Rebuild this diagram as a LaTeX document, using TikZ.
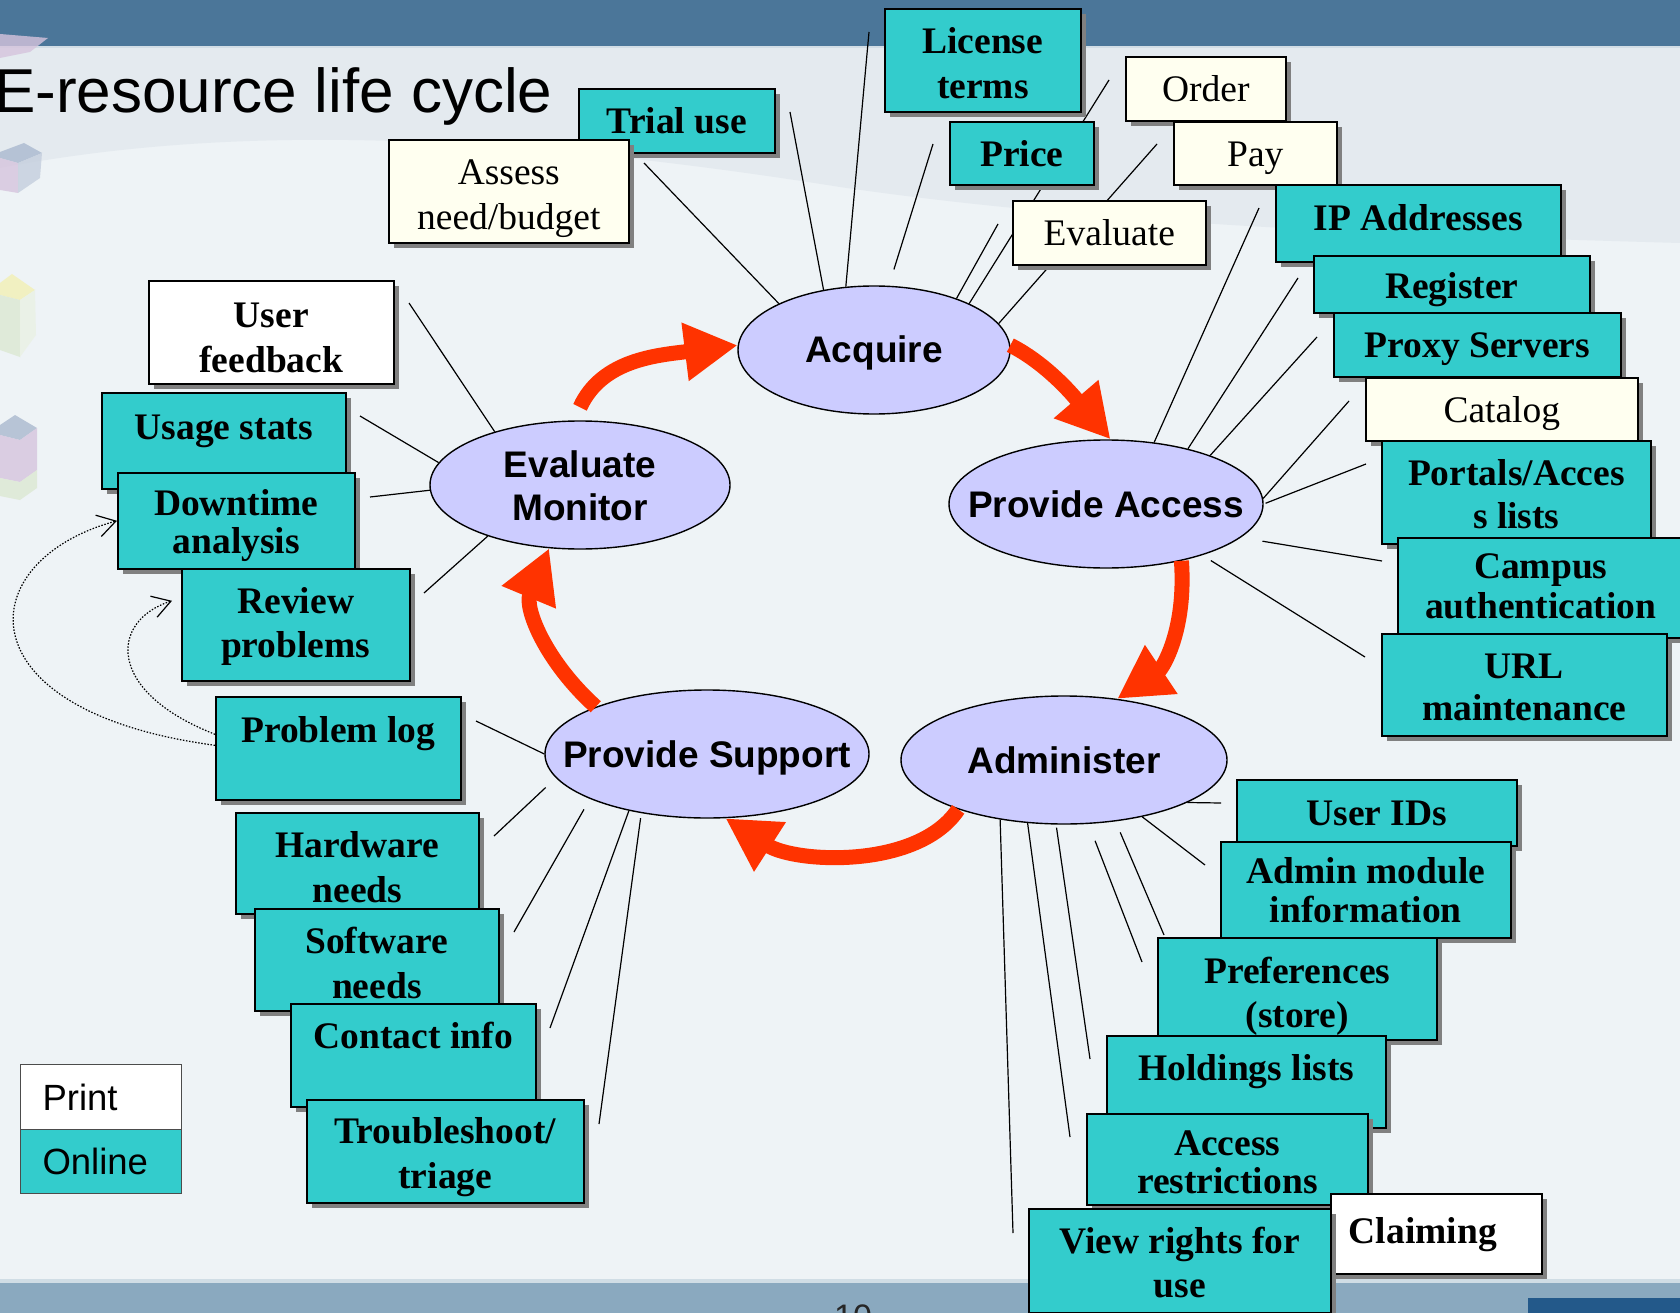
\documentclass[tikz,border=0pt]{standalone}
\usepackage{fontspec}
\setmainfont{Liberation Serif}
\setsansfont{Liberation Sans}
\usetikzlibrary{shapes.geometric,shadows,arrows.meta}

\definecolor{onlinecol}{HTML}{33CCCC}
\definecolor{ivorycol}{HTML}{FFFFF0}
\definecolor{hubcol}{HTML}{CCCCFF}
\definecolor{cyclecol}{HTML}{FF3300}
\definecolor{shadowcol}{HTML}{808080}
\definecolor{bandcol}{HTML}{4B7699}
\definecolor{footcol}{HTML}{8AA9BF}
\definecolor{pagecol}{HTML}{EEF3F6}
\definecolor{swooshcol}{HTML}{E4EAEF}
\definecolor{cornercol}{HTML}{23598A}
\definecolor{cubeblue}{HTML}{AAB9CF}
\definecolor{cubepink}{HTML}{D6C4DD}
\definecolor{cubegreen}{HTML}{DCE8D2}
\definecolor{cubeyellow}{HTML}{F2F0B4}

% text of an ellipse, shifted so that the ellipse keeps its own size
\newcommand\hublabel[2][-13pt]{\makebox[0pt]{\raisebox{#1}[0pt][0pt]{\begin{tabular}[b]{@{}c@{}}#2\end{tabular}}}}

\begin{document}
\begin{tikzpicture}[x=1pt,y=-1pt,
    % width, height above the last baseline, depth below it
    boxsize/.style n args={3}{minimum width=#1pt,text height=#2pt,text depth=#3pt},
    box/.style={draw=black,line width=1.6pt,anchor=north west,inner sep=0pt,align=center,
      drop shadow={shadow xshift=5pt,shadow yshift=-5pt,fill=shadowcol,opacity=1}},
    onlinebox/.style={box,fill=onlinecol,font=\fontsize{37.5}{45}\selectfont\bfseries},
    printbox/.style={box,fill=white,font=\fontsize{37.5}{45}\selectfont\bfseries},
    printplain/.style={box,fill=ivorycol,font=\fontsize{37.5}{45}\selectfont},
    hub/.style={ellipse,draw=black,line width=1.4pt,fill=hubcol,inner sep=0pt,
      minimum height=128pt,font=\fontsize{37}{43}\selectfont\sffamily\bfseries},
    spoke/.style={draw=black,line width=1.2pt},
    cyclearrow/.style={draw=cyclecol,line width=15pt,-{Triangle[length=53pt,width=55pt]}},
    dotarrow/.style={draw=black,line width=1.2pt,dash pattern=on 1.5pt off 1.6pt,
      -{Straight Barb[length=18pt,width=22pt]}},
    legend/.style={draw=black!70,line width=1pt,anchor=north west,inner xsep=22pt,
      inner ysep=0pt,text width=117pt,align=left,font=\fontsize{36.5}{43}\selectfont\sffamily}
  ]
\useasboundingbox (0,0) rectangle (1680,1313);

% background
\fill[pagecol] (0,0) rectangle (1680,1313);
\fill[swooshcol] (0,46) -- (1680,46) -- (1680,243)
  .. controls (1400,235) and (1100,225) .. (840,187)
  .. controls (450,125) and (200,130) .. (0,168) -- cycle;
\fill[bandcol] (0,0) rectangle (1680,46);
\fill[bandcol!25!white] (0,46) rectangle (1680,48);
\fill[footcol!40!white] (0,1279) rectangle (1680,1283);
\fill[footcol] (0,1283) rectangle (1680,1313);
\fill[cornercol] (1528,1298) rectangle (1680,1313);

% faded cubes on the left edge
\begin{scope}[opacity=.8]
  \fill[cubepink] (0,34) -- (48,38) -- (30,52) -- (0,58) -- cycle;
  \fill[cubeblue] (0,152) -- (24,143) -- (42,153) -- (18,163) -- (0,158) -- cycle;
  \fill[cubepink] (0,158) -- (18,163) -- (18,193) -- (0,190) -- cycle;
  \fill[cubeblue!70!white] (18,163) -- (42,153) -- (40,178) -- (18,193) -- cycle;
  \fill[cubeyellow] (0,283) -- (12,274) -- (35,290) -- (20,300) -- (0,295) -- cycle;
  \fill[cubegreen] (0,295) -- (20,300) -- (20,357) -- (0,350) -- cycle;
  \fill[cubegreen!60!white] (20,300) -- (35,290) -- (36,335) -- (20,357) -- cycle;
  \fill[cubeblue] (0,425) -- (15,415) -- (37,428) -- (20,440) -- (0,435) -- cycle;
  \fill[cubepink] (0,435) -- (20,440) -- (37,428) -- (37,470) -- (20,482) -- (0,478) -- cycle;
  \fill[cubegreen] (0,478) -- (20,482) -- (37,470) -- (37,488) -- (20,500) -- (0,496) -- cycle;
\end{scope}

\node[anchor=base west,inner sep=0pt,font=\fontsize{62}{70}\selectfont\sffamily]
  (title) at (-6,113) {E-resource life cycle};
\node[anchor=north west,inner sep=0pt,font=\fontsize{34}{40}\selectfont\sffamily,text=black!85]
  (pageno) at (834,1305) {10};

% the five stages
\node[hub,minimum width=272pt] (acquire) at (874,350) {\hublabel{Acquire}};
\node[hub,minimum width=314pt] (paccess) at (1106,504) {\hublabel{Provide Access}};
\node[hub,minimum width=326pt] (admin) at (1064,760) {\hublabel{Administer}};
\node[hub,minimum width=324pt] (support) at (707,754) {\hublabel{Provide Support}};
\node[hub,minimum width=300pt] (evalmon) at (580,485) {\hublabel[-35pt]{Evaluate\\Monitor}};

% spokes: stage, angle on the ellipse, gap, free end
\foreach \hub/\ang/\gap/\px/\py [count=\i] in {
    acquire/154/0/644/163, acquire/130/0/790/112, acquire/114/0/869/32,
    acquire/77/17/933/144, acquire/32/0/998/224, acquire/26/0/1109/80,
    acquire/12/0/1157/144,
    paccess/52/0/1259/208, paccess/34/0/1298/278, paccess/25/0/1317/337,
    paccess/2/0/1349/401, paccess/0/2/1366/464, paccess/-14/22/1382/561,
    paccess/-28/10/1365/657,
    evalmon/148/0/409/303, evalmon/171/0/360/416, evalmon/182/0/370/497,
    evalmon/209/0/424/593,
    support/180/0/476/721, support/189/14/494/836, support/201/12/514/932,
    support/216/0/550/1028, support/222/5/599/1124,
    admin/-19/0/1221/803, admin/-36/0/1205/865, admin/-50/12/1164/935,
    admin/-69/18/1142/962, admin/-97/3/1090/1059, admin/-120/0/1070/1137,
    admin/-137/0/1013/1233}
  {\coordinate (end\i) at (\px,\py);
   \draw[spoke,shorten <=\gap pt] (\hub.\ang) -- (end\i);}

% acquire
\node[onlinebox,boxsize={196}{45}{19}] (trial) at (578,88) {Trial use};
\node[printplain,boxsize={240}{90}{13}] (assess) at (388,139) {Assess\\need/budget};
\node[onlinebox,boxsize={196}{90}{13}] (license) at (884,8) {License\\terms};
\node[printplain,boxsize={160}{45}{19}] (order) at (1125,56) {Order};
\node[onlinebox,boxsize={144}{45}{18}] (price) at (949,121) {Price};
\node[printplain,boxsize={163}{45}{18}] (pay) at (1173,121) {Pay};
\node[printplain,boxsize={193}{45}{19}] (evalbox) at (1012,200) {Evaluate};

% provide access
\node[onlinebox,boxsize={285}{46}{31}] (ipaddr) at (1275,184) {IP Addresses};
\node[onlinebox,boxsize={276}{43}{14}] (register) at (1313,255) {Register};
\node[onlinebox,boxsize={287}{45}{19}] (proxy) at (1333,312) {Proxy Servers};
\node[printplain,boxsize={272}{45}{18}] (catalog) at (1365,377) {Catalog};
\node[onlinebox,boxsize={269}{88}{15}] (portals) at (1381,440) {Portals/Acces\\[-2pt]s lists};
\node[onlinebox,boxsize={286}{81}{19}] (campus) at (1397,537) {Campus\\[-5pt]authentication};
\node[onlinebox,boxsize={285}{87}{15}] (url) at (1381,633) {URL\\[-3pt]maintenance};

% evaluate / monitor
\node[printbox,boxsize={245}{92}{11}] (userfb) at (148,280) {User\\feedback};
\node[onlinebox,boxsize={244}{47}{49}] (usage) at (101,392) {Usage stats};
\node[onlinebox,boxsize={237}{81}{15}] (downtime) at (117,472) {Downtime\\[-7pt]analysis};
\node[onlinebox,boxsize={228}{89}{23}] (review) at (181,568) {Review\\[-1pt]problems};

% provide support
\node[onlinebox,boxsize={245}{46}{57}] (problog) at (215,696) {Problem log};
\node[onlinebox,boxsize={243}{90}{11}] (hardware) at (235,812) {Hardware\\needs};
\node[onlinebox,boxsize={244}{90}{12}] (software) at (254,908) {Software\\needs};
\node[onlinebox,boxsize={245}{45}{58}] (contact) at (290,1003) {Contact info};
\node[onlinebox,boxsize={277}{89}{14}] (trouble) at (306,1099) {Troubleshoot/\\triage};

% administer
\node[onlinebox,boxsize={280}{46}{20}] (userids) at (1236,779) {User IDs};
\node[onlinebox,boxsize={290}{81}{15}] (adminmod) at (1220,841) {Admin module\\[-6pt]information};
\node[onlinebox,boxsize={279}{90}{12}] (prefs) at (1157,937) {Preferences\\[-1pt](store)};
\node[onlinebox,boxsize={279}{45}{47}] (holdings) at (1106,1035) {Holdings lists};
\node[onlinebox,boxsize={281}{80}{11}] (access) at (1086,1113) {Access\\[-7pt]restrictions};
\node[printbox,boxsize={211}{50}{30},inner xsep=18pt,text width=175pt,align=left]
  (claiming) at (1330,1193) {Claiming};
\node[onlinebox,boxsize={302}{89}{15}] (viewrights) at (1028,1208) {View rights for\\[-1pt]use};

% legend
\node[legend,fill=white,minimum height=65pt] (print) at (20,1064) {Print};
\node[legend,fill=onlinecol,minimum height=64pt] (online) at (20,1129) {Online};

% the cycle
\draw[cyclearrow] ([yshift=13pt]evalmon.north) .. controls +(22,-48) and +(-80,10) .. (acquire.178);
\draw[cyclearrow] (acquire.2) .. controls +(40,20) and +(-30,-35) .. (paccess.86);
\draw[cyclearrow] (paccess.-37) .. controls +(5,70) and +(45,-30) .. (admin.49);
\draw[cyclearrow] (admin.205) .. controls +(-40,60) and +(70,45) .. (support.-74);
\draw[cyclearrow] (support.157) .. controls +(-50,-45) and +(-25,60) .. (evalmon.-116);

% problems fed back
\draw[dotarrow] ([yshift=3pt]problog.west) .. controls +(-255,-34) and +(-147,40) .. (downtime.west);
\draw[dotarrow] ([yshift=14pt]problog.west) .. controls +(-110,-43) and +(-62,20) .. ([xshift=-9pt,yshift=24pt]review.west);
\end{tikzpicture}
\end{document}
